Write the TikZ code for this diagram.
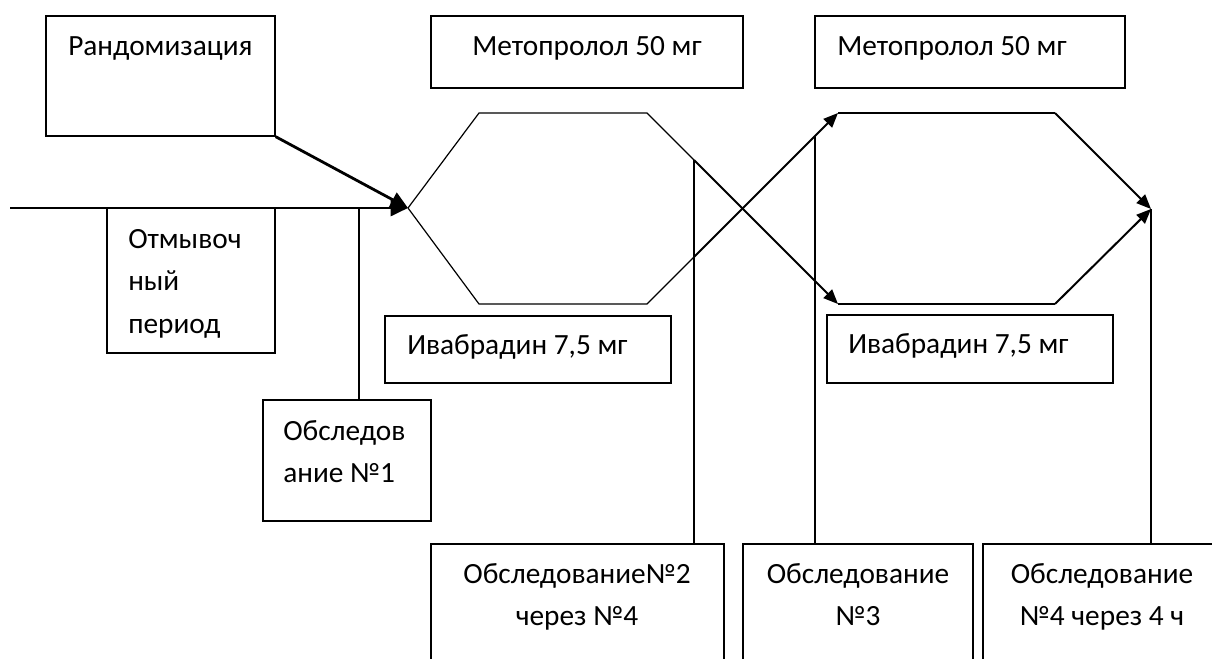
\documentclass[tikz,border=0pt]{standalone}
\usepackage{fontspec}
\setmainfont{Carlito}
\usetikzlibrary{arrows.meta,fit}
\begin{document}
\begin{tikzpicture}[x=0.75pt,y=-0.75pt,
  box/.style={draw, line width=1pt, inner sep=0pt},
  txt/.style={inner sep=0pt, align=left, anchor=north west, font=\fontsize{22}{32}\selectfont},
  ctxt/.style={inner sep=0pt, align=center, anchor=north, font=\fontsize{22}{32}\selectfont},
  hexline/.style={line width=0.9pt},
  vline/.style={line width=1pt},
  flow/.style={line width=1.5pt, -{Triangle[length=11pt,width=9pt]}},
  mainflow/.style={line width=2.1pt, -{Triangle[length=13pt,width=12pt]}},
  line join=miter]
\useasboundingbox (0,0) rectangle (1212,659);
\clip (0,0) rectangle (1212,659);
\fill[white] (0,0) rectangle (1212,659);

% boxes
\node[box, fit={(46,16) (275,136)}] (rand) {};
\node[box, fit={(107,208) (275,353)}] (wash) {};
\node[box, fit={(263,400) (431,521)}] (obs1) {};
\node[box, fit={(431,16) (743,88)}] (met1) {};
\node[box, fit={(815,16) (1125,88)}] (met2) {};
\node[box, fit={(385,316) (671,383)}] (iva1) {};
\node[box, fit={(827,315) (1113,383)}] (iva2) {};
\node[box, fit={(431,544) (724,700)}] (obs2) {};
\node[box, fit={(743,544) (973,700)}] (obs3) {};
\node[box, fit={(983,544) (1221,700)}] (obs4) {};

% texts
\node[txt] (randT) at (68,25) {\strut Рандомизация};
\node[txt] (washT) at (128,218) {\strut Отмывоч\\ный\\период};
\node[txt] (obs1T) at (283,410) {\strut Обследов\\ание №1};
\node[txt] (met1T) at (472,25) {\strut Метопролол 50 мг};
\node[txt] (met2T) at (837,25) {\strut Метопролол 50 мг};
\node[txt] (iva1T) at (407,324) {\strut Ивабрадин 7,5 мг};
\node[txt] (iva2T) at (848,323) {\strut Ивабрадин 7,5 мг};
\node[ctxt] (obs2T) at (577,553) {\strut Обследование№2\\через №4};
\node[ctxt] (obs3T) at (858,553) {\strut Обследование\\№3};
\node[ctxt] (obs4T) at (1102,553) {\strut Обследование\\№4 через 4 ч};

% key points
\coordinate (start) at (10,208);
\coordinate (L1) at (408,208);
\coordinate (T1a) at (479,113);
\coordinate (T1b) at (647,113);
\coordinate (B1a) at (479,304);
\coordinate (B1b) at (647,304);
\coordinate (T2a) at (838,113);
\coordinate (T2b) at (1055,113);
\coordinate (B2a) at (838,304);
\coordinate (B2b) at (1055,304);
\coordinate (R2) at (1151,209);
\coordinate (X1) at (694,160);
\coordinate (X2) at (694,257);
\coordinate (X3) at (815,136);
\coordinate (v1) at (359,208);

% vertical lines to examinations
\draw[vline] (v1) -- (v1 |- obs1.north);
\draw[vline] (X1) -- (X1 |- obs2.north);
\draw[vline] (X3) -- (X3 |- obs3.north);
\draw[vline] (R2) -- (R2 |- obs4.north);

% first hexagon
\draw[hexline] (L1) -- (T1a) -- (T1b) -- (X1);
\draw[hexline] (L1) -- (B1a) -- (B1b) -- (X2);
\draw[flow] (X1) -- (B2a);
\draw[flow] (X2) -- (T2a);

% second hexagon
\draw[hexline] (T2a) -- (T2b);
\draw[hexline] (B2a) -- (B2b);
\draw[flow] (T2b) -- (R2);
\draw[flow] (B2b) -- (R2);

% main line and randomisation
\draw[mainflow] (start) -- (L1);
\draw[mainflow] (rand.south east) -- (L1);
\end{tikzpicture}
\end{document}
